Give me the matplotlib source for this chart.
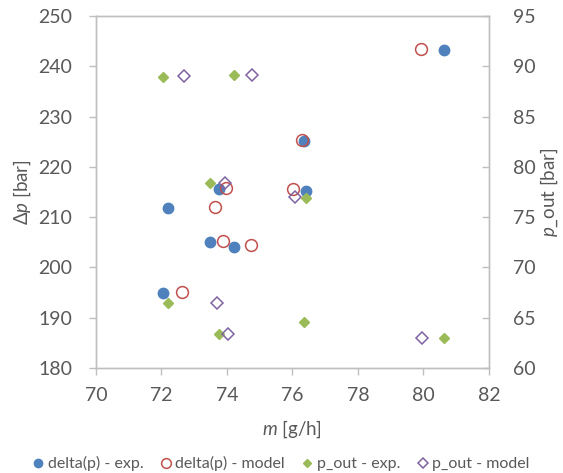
import matplotlib.pyplot as plt
from matplotlib.lines import Line2D

# delta(p) - experimental (left axis)
m_exp = [80.64, 76.35, 73.77, 76.40, 72.21, 73.48, 74.22, 72.06]
dp_exp = [243.2, 225.2, 215.6, 215.3, 211.8, 205.0, 204.1, 194.9]

# delta(p) - model (left axis)
m_mod = [79.92, 76.29, 73.97, 76.03, 73.64, 73.89, 74.72, 72.64]
dp_mod = [243.4, 225.4, 215.9, 215.6, 212.1, 205.3, 204.5, 195.2]

# p_out - experimental (right axis)
m_pexp = [72.06, 74.22, 73.48, 76.40, 72.21, 73.77, 76.36, 80.64]
pout_exp = [88.97, 89.10, 78.37, 76.95, 66.50, 63.36, 64.58, 62.96]

# p_out - model (right axis)
m_pmod = [72.68, 74.77, 73.93, 76.08, 73.68, 74.04, 79.96]
pout_mod = [89.00, 89.10, 78.37, 77.04, 66.50, 63.36, 63.00]

TXT = '#595959'
GRID = '#bfbfbf'
C_BLUE = '#4F81BD'
C_RED = '#C0504D'
C_GREEN = '#9BBB59'
C_PURPLE = '#8064A2'

plt.rcParams['font.family'] = ['Lato', 'DejaVu Sans']
plt.rcParams['mathtext.fontset'] = 'custom'
plt.rcParams['mathtext.it'] = 'Lato:italic'
plt.rcParams['mathtext.rm'] = 'Lato'

fig = plt.figure(figsize=(5.63, 4.73), dpi=100)
ax = fig.add_axes([0.1705, 0.222, 0.698, 0.744])
ax2 = ax.twinx()

ax.plot(m_exp, dp_exp, 'o', color=C_BLUE, ms=7.5, mec=C_BLUE, zorder=3)
ax.plot(m_mod, dp_mod, 'o', mfc='none', mec=C_RED, ms=8.5, mew=1.1, zorder=4)
ax2.plot(m_pexp, pout_exp, 'D', color=C_GREEN, ms=5.5, zorder=3)
ax2.plot(m_pmod, pout_mod, 'D', mfc='none', mec=C_PURPLE, ms=6.5, mew=1.1, zorder=4)

ax.set_xlim(70, 82)
ax.set_ylim(180, 250)
ax2.set_ylim(60, 95)
ax.set_xticks(range(70, 83, 2))
ax.set_yticks(range(180, 251, 10))
ax2.set_yticks(range(60, 96, 5))

for a in (ax, ax2):
    for s in a.spines.values():
        s.set_color(GRID)
        s.set_linewidth(1.0)

ax.tick_params(axis='both', colors=GRID, labelcolor=TXT, labelsize=14,
               length=5, width=1, direction='out')
ax.tick_params(axis='y', pad=12)
ax.tick_params(axis='x', pad=9)
ax2.tick_params(axis='y', colors=GRID, labelcolor=TXT, labelsize=14,
                length=5, width=1, direction='in', pad=17)

ax.set_xlabel(r'$m$ [g/h]', color=TXT, fontsize=13.5, labelpad=10)
ax.set_ylabel(r'$\Delta p$ [bar]', color=TXT, fontsize=13.5, labelpad=4)
ax2.set_ylabel(r'$p$_out [bar]', color=TXT, fontsize=13.5, labelpad=2)

handles = [
    Line2D([], [], ls='none', marker='o', color=C_BLUE, ms=6),
    Line2D([], [], ls='none', marker='o', mfc='none', mec=C_RED, ms=7, mew=1.1),
    Line2D([], [], ls='none', marker='D', color=C_GREEN, ms=4.5),
    Line2D([], [], ls='none', marker='D', mfc='none', mec=C_PURPLE, ms=5.5, mew=1.1),
]
labels = ['delta(p) - exp.', 'delta(p) - model', 'p_out - exp.', 'p_out - model']
leg = fig.legend(handles, labels, loc='lower center', bbox_to_anchor=(0.5, -0.027),
                 ncol=4, frameon=False, fontsize=11.5, handlelength=0.6,
                 handletextpad=0.3, columnspacing=1.1, labelcolor=TXT)

fig.savefig('out.png', dpi=100)
